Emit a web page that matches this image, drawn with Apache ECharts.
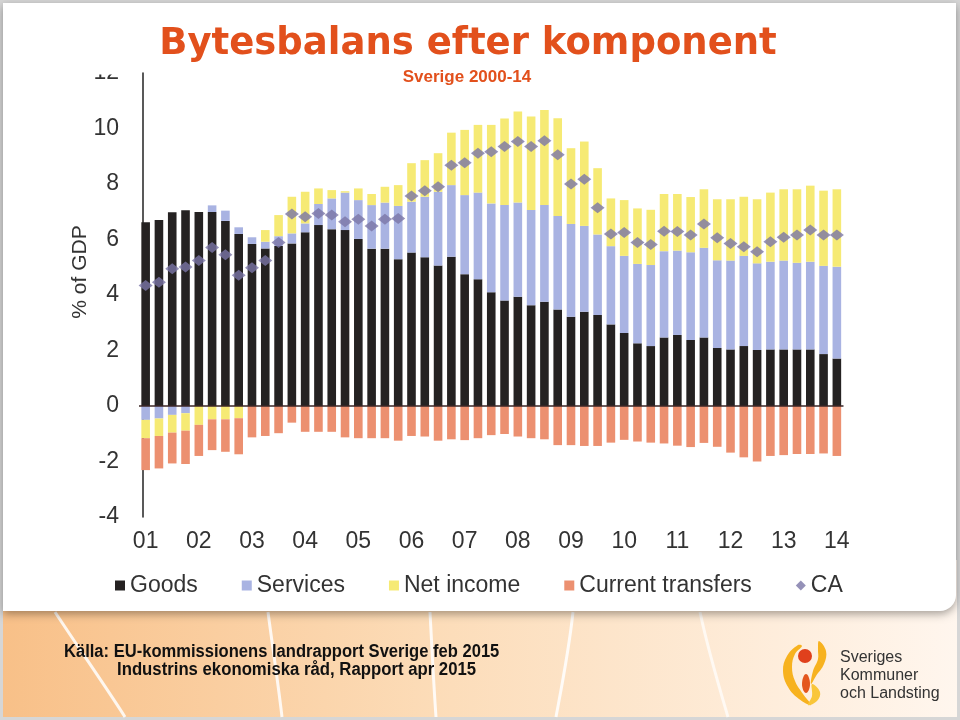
<!DOCTYPE html>
<html><head><meta charset="utf-8">
<script src="https://cdn.jsdelivr.net/npm/echarts@6/dist/echarts.min.js"></script>
<style>html,body{margin:0;padding:0;background:#fff}#c{width:960px;height:720px}</style>
</head><body><div id="c"></div>
<script>
const quarters = ['2001Q1','2001Q2','2001Q3','2001Q4','2002Q1','2002Q2','2002Q3','2002Q4','2003Q1','2003Q2','2003Q3','2003Q4',
'2004Q1','2004Q2','2004Q3','2004Q4','2005Q1','2005Q2','2005Q3','2005Q4','2006Q1','2006Q2','2006Q3','2006Q4',
'2007Q1','2007Q2','2007Q3','2007Q4','2008Q1','2008Q2','2008Q3','2008Q4','2009Q1','2009Q2','2009Q3','2009Q4',
'2010Q1','2010Q2','2010Q3','2010Q4','2011Q1','2011Q2','2011Q3','2011Q4','2012Q1','2012Q2','2012Q3','2012Q4',
'2013Q1','2013Q2','2013Q3','2013Q4','2014Q1'];

const goods = [6.62,6.70,6.98,7.05,6.99,6.99,6.67,6.20,5.84,5.68,5.77,5.86,6.26,6.52,6.37,6.34,6.02,5.67,5.67,5.29,
5.53,5.36,5.06,5.38,4.75,4.57,4.10,3.80,3.94,3.63,3.76,3.48,3.22,3.40,3.28,2.94,2.63,2.26,2.16,2.47,
2.56,2.38,2.47,2.09,2.04,2.16,2.02,2.04,2.04,2.04,2.04,1.87,1.71];

const services = [-0.50,-0.45,-0.32,-0.26,0.00,0.24,0.37,0.24,0.24,0.24,0.35,0.36,0.32,0.76,1.11,1.35,1.40,1.57,1.66,1.92,
1.83,2.18,2.66,2.58,2.85,3.12,3.20,3.44,3.39,3.43,3.48,3.37,3.34,3.09,2.90,2.82,2.78,2.86,2.92,3.11,
3.04,3.16,3.23,3.16,3.20,3.25,3.12,3.16,3.20,3.12,3.16,3.18,3.31];

const netIncome = [-0.66,-0.63,-0.64,-0.63,-0.68,-0.48,-0.48,-0.44,0.00,0.42,0.76,1.32,1.14,0.56,0.30,0.05,0.42,0.40,0.57,0.75,
1.39,1.32,1.39,1.89,2.35,2.44,2.83,3.12,3.28,3.37,3.43,3.52,2.73,3.04,2.39,1.72,2.01,2.00,1.99,2.06,
2.04,1.99,2.11,2.20,2.21,2.13,2.31,2.49,2.57,2.65,2.74,2.71,2.79];

const currentTransfers = [-1.15,-1.17,-1.11,-1.20,-1.12,-1.11,-1.17,-1.30,-1.13,-1.08,-0.98,-0.60,-0.93,-0.93,-0.93,-1.13,-1.16,-1.16,-1.16,-1.25,
-1.08,-1.10,-1.25,-1.20,-1.23,-1.16,-1.05,-1.01,-1.10,-1.16,-1.20,-1.41,-1.41,-1.44,-1.44,-1.32,-1.22,-1.28,-1.32,-1.35,
-1.43,-1.48,-1.33,-1.47,-1.68,-1.85,-2.00,-1.80,-1.77,-1.73,-1.73,-1.71,-1.80];

const currentAccount = [4.34,4.46,4.95,5.01,5.24,5.71,5.45,4.71,4.98,5.24,5.89,6.92,6.82,6.94,6.88,6.64,6.73,6.49,6.73,6.76,
7.57,7.76,7.90,8.68,8.77,9.11,9.16,9.35,9.53,9.35,9.56,9.05,8.00,8.17,7.14,6.20,6.25,5.89,5.82,6.30,
6.29,6.16,6.56,6.06,5.86,5.74,5.56,5.92,6.08,6.16,6.34,6.16,6.16];

const seriesNames = ['Goods','Services','Net income','Current transfers','CA'];
const titleText = 'Bytesbalans efter komponent';
const subtitleText = 'Sverige 2000-14';
const yAxisName = '% of GDP';
const sourceLines = ['Källa: EU-kommissionens landrapport Sverige feb 2015','Industrins ekonomiska råd, Rapport apr 2015'];
const logoLines = ['Sveriges','Kommuner','och Landsting'];

const chart = echarts.init(document.getElementById('c'), null, {renderer:'canvas'});
const FONT = 'Liberation Sans, Arial, sans-serif';
const barW = 8.6;
const orange = '#e2501c';

const option = {
  backgroundColor: '#d6d6d6',
  animation: false,
  textStyle: {fontFamily: FONT},
  grid: {left: 139, width: 704.5, top: 73, height: 444, containLabel: false},
  xAxis: {
    type: 'category', data: quarters,
    axisLine: {show: false, onZero: false}, axisTick: {show: false}, splitLine: {show: false},
    axisLabel: {interval: 3, formatter: v => v.slice(2, 4), fontSize: 23, color: '#333', margin: 13, fontFamily: FONT}
  },
  yAxis: {
    type: 'value', min: -4, max: 12, interval: 2, offset: -4,
    axisLine: {show: true, lineStyle: {color: '#222', width: 1.5}},
    axisTick: {show: false}, splitLine: {show: false},
    axisLabel: {fontSize: 23, color: '#333', margin: 24, fontFamily: FONT}
  },
  legend: {
    left: 110, top: 569, itemWidth: 10, itemHeight: 10, itemGap: 44,
    textStyle: {fontSize: 23, color: '#333', fontFamily: FONT},
    data: [
      {name: seriesNames[0], icon: 'rect'},
      {name: seriesNames[1], icon: 'rect'},
      {name: seriesNames[2], icon: 'rect'},
      {name: seriesNames[3], icon: 'rect'},
      {name: seriesNames[4], icon: 'diamond'}
    ]
  },
  series: [
    {name: seriesNames[0], type: 'bar', stack: 'ca', barWidth: barW, data: goods, itemStyle: {color: '#252222'}},
    {name: seriesNames[1], type: 'bar', stack: 'ca', barWidth: barW, data: services, itemStyle: {color: '#a9b3e2'}},
    {name: seriesNames[2], type: 'bar', stack: 'ca', barWidth: barW, data: netIncome, itemStyle: {color: '#f6ea74'}},
    {name: seriesNames[3], type: 'bar', stack: 'ca', barWidth: barW, data: currentTransfers, itemStyle: {color: '#ec9070'}},
    {name: seriesNames[4], type: 'scatter', symbol: 'diamond', symbolSize: [14, 11], data: currentAccount, z: 5,
      itemStyle: {color: '#7a76a6'},
      markLine: {silent: true, symbol: ['none', 'none'], label: {show: false},
        lineStyle: {color: '#3b2626', width: 1.5, type: 'solid'}, data: [{yAxis: 0}]}
    }
  ],
  graphic: [
    {type: 'rect', z: -9, shape: {x: 3, y: 560, width: 954, height: 157},
      style: {fill: new echarts.graphic.LinearGradient(0, 0, 1, 0, [
        {offset: 0, color: '#f8c088'}, {offset: 0.45, color: '#fcdcb8'}, {offset: 1, color: '#fff6ee'}])}},
    {type: 'bezierCurve', z: -8, shape: {x1: 55, y1: 612, cpx1: 80, cpy1: 650, cpx2: 108, cpy2: 690, x2: 125, y2: 717}, style: {stroke: 'rgba(255,255,255,0.85)', lineWidth: 3, fill: null}},
    {type: 'bezierCurve', z: -8, shape: {x1: 268, y1: 612, cpx1: 273, cpy1: 650, cpx2: 279, cpy2: 690, x2: 282, y2: 717}, style: {stroke: 'rgba(255,255,255,0.85)', lineWidth: 3, fill: null}},
    {type: 'bezierCurve', z: -8, shape: {x1: 430, y1: 612, cpx1: 432, cpy1: 650, cpx2: 434, cpy2: 690, x2: 436, y2: 717}, style: {stroke: 'rgba(255,255,255,0.85)', lineWidth: 3, fill: null}},
    {type: 'bezierCurve', z: -8, shape: {x1: 573, y1: 612, cpx1: 569, cpy1: 650, cpx2: 561, cpy2: 690, x2: 556, y2: 717}, style: {stroke: 'rgba(255,255,255,0.85)', lineWidth: 3, fill: null}},
    {type: 'bezierCurve', z: -8, shape: {x1: 700, y1: 612, cpx1: 708, cpy1: 650, cpx2: 720, cpy2: 690, x2: 728, y2: 717}, style: {stroke: 'rgba(255,255,255,0.7)', lineWidth: 3, fill: null}},
    {type: 'rect', z: -5, shape: {x: 3, y: 3, width: 953, height: 608, r: [0, 0, 16, 0]},
      style: {fill: '#ffffff', shadowBlur: 9, shadowColor: 'rgba(0,0,0,0.35)', shadowOffsetY: 3}},
    {type: 'rect', z: 5, shape: {x: 50, y: 3, width: 88, height: 71.5}, style: {fill: '#ffffff'}},
    {type: 'text', z: 10, x: 468, y: 44, style: {text: titleText, fill: orange, fontSize: 37, fontWeight: 'bold', fontFamily: 'DejaVu Sans, Verdana, sans-serif', textAlign: 'center', textVerticalAlign: 'middle'}},
    {type: 'text', z: 10, x: 467, y: 77, style: {text: subtitleText, fill: orange, fontSize: 17, fontWeight: 'bold', fontFamily: FONT, textAlign: 'center', textVerticalAlign: 'middle'}},
    {type: 'text', z: 10, x: 80, y: 272, rotation: Math.PI / 2, style: {text: yAxisName, fill: '#333', fontSize: 21, fontFamily: FONT, textAlign: 'center', textVerticalAlign: 'middle'}},
    {type: 'text', z: 10, x: 64, y: 652, scaleX: 0.92, style: {text: sourceLines[0], fill: '#111', fontSize: 18, fontWeight: 'bold', fontFamily: 'Liberation Sans Narrow, Arial Narrow, Liberation Sans, sans-serif', textVerticalAlign: 'middle'}},
    {type: 'text', z: 10, x: 117, y: 670, scaleX: 0.93, style: {text: sourceLines[1], fill: '#111', fontSize: 18, fontWeight: 'bold', fontFamily: 'Liberation Sans Narrow, Arial Narrow, Liberation Sans, sans-serif', textVerticalAlign: 'middle'}},
    {type: 'polygon', z: 6, shape: {smooth: 0.4, points: [[798,645],[787,656],[783,671],[788,687],[799,699],[811,705],[803,694],[795,681],[792,667],[795,654],[802,646]]}, style: {fill: '#f7b21f'}},
    {type: 'polygon', z: 6, shape: {smooth: 0.4, points: [[819,641],[826,651],[824,664],[816,676],[811,684],[813,671],[818,659],[818,649]]}, style: {fill: '#f7b21f'}},
    {type: 'polygon', z: 6, shape: {smooth: 0.4, points: [[812,684],[820,692],[817,701],[808,705],[812,696]]}, style: {fill: '#f9c63a'}},
    {type: 'circle', z: 7, shape: {cx: 805, cy: 656, r: 7}, style: {fill: '#e0401c'}},
    {type: 'polygon', z: 7, shape: {smooth: 0.5, points: [[806,674],[810,684],[806,693],[802,684]]}, style: {fill: '#e4561c'}},
    {type: 'text', z: 10, x: 840, y: 658, style: {text: logoLines[0], fill: '#333', fontSize: 16, fontFamily: FONT, textVerticalAlign: 'middle'}},
    {type: 'text', z: 10, x: 840, y: 676, style: {text: logoLines[1], fill: '#333', fontSize: 16, fontFamily: FONT, textVerticalAlign: 'middle'}},
    {type: 'text', z: 10, x: 840, y: 694, style: {text: logoLines[2], fill: '#333', fontSize: 16, fontFamily: FONT, textVerticalAlign: 'middle'}}
  ]
};
chart.setOption(option);
</script></body></html>
